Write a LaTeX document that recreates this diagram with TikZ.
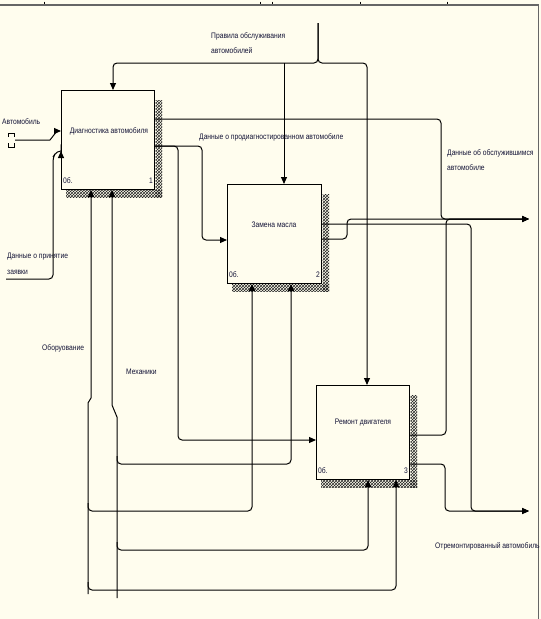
\documentclass[tikz,border=0pt]{standalone}
\usepackage{fontspec}
\setmainfont{Liberation Sans}[FakeStretch=0.84]
\usetikzlibrary{arrows.meta,patterns,calc}
\definecolor{bg}{RGB}{255,253,238}
\definecolor{txt}{RGB}{20,20,55}
\begin{document}
\begin{tikzpicture}[x=1pt,y=-1pt,
  font=\fontsize{8}{15.5}\selectfont,
  box/.style={draw, fill=bg, line width=1pt, anchor=north west, inner sep=0pt},
  shad/.style={pattern=crosshatch, pattern color=black!85},
  ln/.style={line width=1pt, rounded corners=4pt},
  arr/.style={ln, -{Triangle[length=7pt,width=6pt]}},
  lbl/.style={inner sep=0pt, anchor=west, align=left, text=txt},
  btxt/.style={inner sep=0pt, text=txt},
  num/.style={inner sep=0pt, text=txt}]
\fill[bg] (0,0) rectangle (541,619);
\useasboundingbox (0,0) rectangle (541,619);
% frame
\draw[black!60, line width=2pt] (0,4.5) -- (538.5,4.5);
\draw[black!60, line width=1.5pt] (538.5,4) -- (538.5,619);
\foreach \x in {44,260,272,360,447} \draw[line width=0.6pt] (\x,1.5) -- (\x,4);
% boxes
\node[box, minimum width=93pt, minimum height=99pt] (b1) at (61,90) {};
\node[box, minimum width=94pt, minimum height=99pt] (b2) at (227,184) {};
\node[box, minimum width=93pt, minimum height=94pt] (b3) at (316,385) {};
\foreach \b in {b1,b2,b3} {
  \fill[shad] ($(\b.north east)+(0.5,10)$) rectangle ($(\b.south east)+(7,7)$);
  \fill[shad] ($(\b.south west)+(5,0.5)$) rectangle ($(\b.south east)+(7,7)$);
}
\node[btxt] (t1) at (109,131) {Диагностика автомобиля};
\node[btxt] (t2) at (274,225) {Замена масла};
\node[btxt] (t3) at (363,423) {Ремонт двигателя};
\node[num, anchor=west] (n1a) at ($(b1.south west)+(2,-9)$) {0б.};
\node[num, anchor=east] (n1b) at ($(b1.south east)+(-2,-9)$) {1};
\node[num, anchor=west] (n2a) at ($(b2.south west)+(2,-9)$) {0б.};
\node[num, anchor=east] (n2b) at ($(b2.south east)+(-2,-9)$) {2};
\node[num, anchor=west] (n3a) at ($(b3.south west)+(2,-9)$) {0б.};
\node[num, anchor=east] (n3b) at ($(b3.south east)+(-2,-9)$) {3};
% labels
\node[lbl] (lctl) at (211,43) {Правила обслуживания\\автомобилей};
\node[lbl] (lin1) at (2,122) {Автомобиль};
\node[lbl] (lin2) at (7,264) {Данные о принятие\\заявки};
\node[lbl] (ld1) at (199,137) {Данные о продиагностированном автомобиле};
\node[lbl] (lo1) at (447,160) {Данные об обслужившимся\\автомобиле};
\node[lbl] (lo2) at (435,546) {Отремонтированный автомобиль};
\node[lbl] (lm1) at (42,348) {Оборуование};
\node[lbl] (lm2) at (126,372) {Механики};
% coordinates
\coordinate (ctl) at (318,23);
\coordinate (j1) at (284,63);
\coordinate (in1) at (15,140);
\coordinate (in2) at (6,279);
\coordinate (o1) at (529,219);
\coordinate (o2) at (529,511);
\coordinate (m1) at (88,594);
\coordinate (m2) at (117,598);
\coordinate (jm1) at (88,503);
\coordinate (jm2) at (88,582);
\coordinate (jm3) at (117,456);
\coordinate (jm4) at (117,542);
% controls
\draw[arr] (ctl) -- (318,63) -| (113,0 |- b1.north);
\draw[arr] (ctl) -- (318,63) -| (367,0 |- b3.north);
\draw[arr] (j1) -- (284,0 |- b2.north);
% inputs
\draw[line width=0.7pt] (8,137) -- (8,133) -- (14,133) -- (14,137);
\draw[line width=0.7pt] (8,143) -- (8,147) -- (14,147) -- (14,143);
\draw[arr, rounded corners=0pt] (in1) -- (50,140) -- (57,131) -- (b1.west |- 0,131);
\draw[arr] (in2) -- (53,279) -- (53,157) -- (57,151) -- (b1.west |- 0,151);
% box1 outputs
\draw[arr] (b1.east |- 0,119) -| (441,219) -- (o1);
\draw[arr] (b1.east |- 0,146) -| (202,240) -- (b2.west |- 0,240);
\draw[arr] (b1.east |- 0,146) -| (178,440) -- (b3.west |- 0,440);
% box2 outputs
\draw[arr] (b2.east |- 0,239) -| (347,219) -- (o1);
\draw[arr] (b2.east |- 0,224) -| (471,511) -- (o2);
% box3 outputs
\draw[arr] (b3.east |- 0,435) -| (446,219) -- (o1);
\draw[arr] (b3.east |- 0,464) -| (445,511) -- (o2);
% mechanisms
\draw[arr, rounded corners=0pt] (m1) -- (88,403) -- (91,398) -- (91,0 |- b1.south);
\draw[arr, rounded corners=0pt] (m2) -- (117,417) -- (112,405) -- (112,0 |- b1.south);
\draw[arr] (jm1) |- (252,511) -- (252,0 |- b2.south);
\draw[arr] (jm2) |- (396,590) -- (396,0 |- b3.south);
\draw[arr] (jm3) |- (291,464) -- (291,0 |- b2.south);
\draw[arr] (jm4) |- (368,550) -- (368,0 |- b3.south);
\end{tikzpicture}
\end{document}
